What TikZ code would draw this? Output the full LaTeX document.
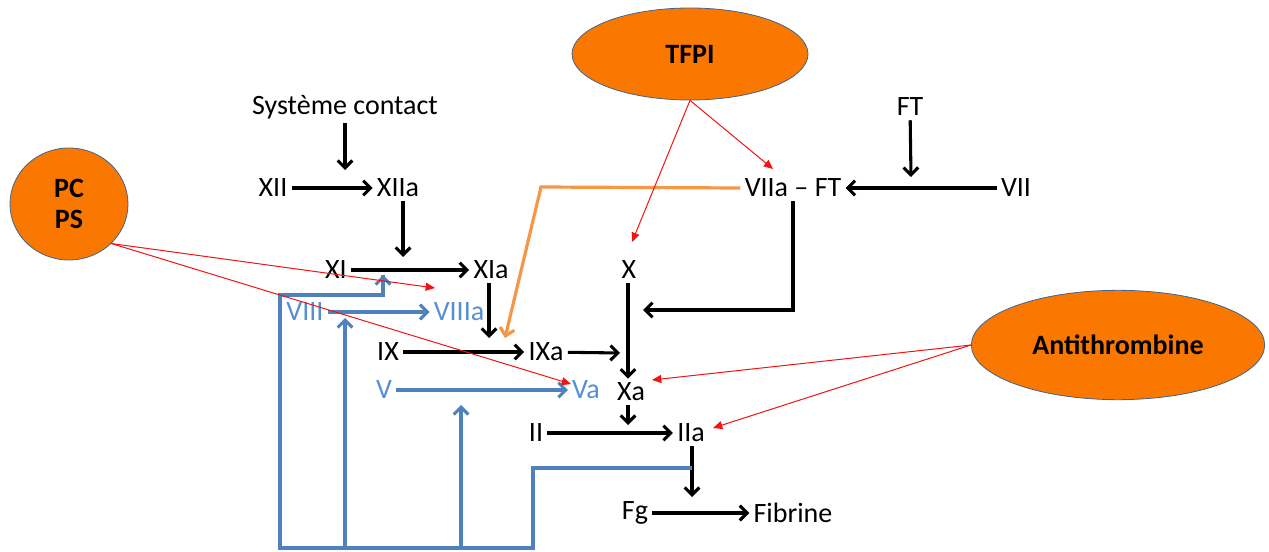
\documentclass[tikz,border=0pt]{standalone}
\usepackage{fontspec}
\setmainfont{Carlito}
\usetikzlibrary{arrows.meta,shapes.geometric}
\definecolor{bl}{RGB}{79,129,189}
\definecolor{bltxt}{RGB}{85,142,213}
\definecolor{orl}{RGB}{247,150,70}
\definecolor{orfill}{RGB}{250,120,0}
\definecolor{edge}{RGB}{65,100,140}
\definecolor{rd}{RGB}{240,20,20}
\tikzset{
  lbl/.style={font=\fontsize{21}{25}\selectfont, inner sep=3pt, text=black},
  blbl/.style={lbl, text=bltxt},
  oval/.style={ellipse, fill=orfill, draw=edge, line width=0.6pt, inner sep=0pt, font=\fontsize{21}{25}\selectfont\bfseries, align=center},
  blk/.style={draw=black, line width=2.3pt, -{Straight Barb[length=5.5pt,width=11pt]}},
  blu/.style={draw=bl, line width=2.3pt, -{Straight Barb[length=5.5pt,width=11pt]}},
  bluline/.style={draw=bl, line width=2.3pt},
  org/.style={draw=orl, line width=2.4pt, -{Straight Barb[length=5.5pt,width=11pt]}},
  red/.style={draw=rd, line width=0.75pt, -{Triangle[length=7pt,width=6pt]}}
}
\begin{document}
\begin{tikzpicture}[x=0.75pt,y=-0.75pt]
\useasboundingbox (0,0) rectangle (1269,552);
% ovals
\node[oval, minimum width=177pt, minimum height=69pt] (tfpi) at (690,54) {TFPI};
\node[oval, minimum width=88.5pt, minimum height=84pt] (pcps) at (69,204) {PC\\[-2pt]PS};
\node[oval, minimum width=220pt, minimum height=82pt] (at) at (1118,345) {Antithrombine};
% labels
\node[lbl] (sc) at (345,107) {Système contact};
\node[lbl] (xii) at (273,188) {XII};
\node[lbl] (xiia) at (398,188) {XIIa};
\node[lbl] (xi) at (336,270) {XI};
\node[lbl] (xia) at (491,270) {XIa};
\node[blbl] (viii) at (305,312) {VIII};
\node[blbl] (viiia) at (459,312) {VIIIa};
\node[lbl] (ix) at (388,352) {IX};
\node[lbl] (ixa) at (546,352) {IXa};
\node[blbl] (v) at (384,390) {V};
\node[blbl] (va) at (586,390) {Va};
\node[lbl] (xa) at (631,392) {Xa};
\node[lbl] (x) at (629,270) {X};
\node[lbl] (viiaft) at (793,188) {VIIa -- FT};
\node[lbl] (ft) at (910,107) {FT};
\node[lbl] (vii) at (1016,188) {VII};
\node[lbl] (ii) at (536,433) {II};
\node[lbl] (iia) at (691,433) {IIa};
\node[lbl] (fg) at (635,513) {Fg};
\node[lbl] (fib) at (793,513) {Fibrine};
% coordinates
\coordinate (csc) at (345,170);
\coordinate (cxiia) at (403,257);
\coordinate (cxia) at (489,338);
\coordinate (cixa) at (620,353);
\coordinate (cft) at (911,177);
\coordinate (cx) at (643,310);
\coordinate (cxa) at (628,425);
\coordinate (ciia) at (692,497);
\coordinate (o1) at (541,187);
\coordinate (cor) at (505,338);
\coordinate (b0) at (692,468);
\coordinate (b1) at (533,468);
\coordinate (b2) at (533,548);
\coordinate (b3) at (280,548);
\coordinate (b4) at (280,295);
\coordinate (b5) at (383,295);
\coordinate (cxi) at (383,275);
\coordinate (b6) at (345,548);
\coordinate (cviii) at (345,318);
\coordinate (b7) at (461,548);
\coordinate (cv) at (461,405);
\coordinate (rviiaft) at (773,169);
\coordinate (rx) at (632,242);
\coordinate (rviiia) at (435,288);
\coordinate (rva) at (571,384);
\coordinate (rxa) at (652,380);
\coordinate (riia) at (713,428);
% black arrows
\draw[blk] (sc) -- (csc);
\draw[blk] (xii) -- (xiia);
\draw[blk] (xiia.south -| cxiia) -- (cxiia);
\draw[blk] (xi) -- (xia);
\draw[blk] (xia.south -| cxia) -- (cxia);
\draw[blk] (ix) -- (ixa);
\draw[blk] (ixa) -- (cixa);
\draw[blk] (x.south -| cxa) -- (xa.north -| cxa);
\draw[blk] (vii) -- (viiaft);
\draw[blk] (ft) -- (cft);
\draw[blk] (viiaft.south) |- (cx);
\draw[blk] (xa.south -| cxa) -- (cxa);
\draw[blk] (ii) -- (iia);
\draw[blk] (iia.south -| ciia) -- (ciia);
\draw[blk] (fg) -- (fib);
% blue
\draw[blu] (viii) -- (viiia);
\draw[blu] (v) -- (va);
\draw[bluline, line join=miter] (b0) -- (b1) -- (b2) -- (b3) -- (b4) -- (b5) -- (cxi);
\draw[blu] (b5) -- (cxi);
\draw[blu] (b6) -- (cviii);
\draw[blu] (b7) -- (cv);
% orange
\draw[org, line join=miter] (viiaft.west) -- (o1) -- (cor);
% red
\draw[red] (tfpi.south) -- (rviiaft);
\draw[red] (tfpi.south) -- (rx);
\draw[red] (pcps.-43) -- (rviiia);
\draw[red] (pcps.-43) -- (rva);
\draw[red] (at.west) -- (rxa);
\draw[red] (at.west) -- (riia);
\end{tikzpicture}
\end{document}
